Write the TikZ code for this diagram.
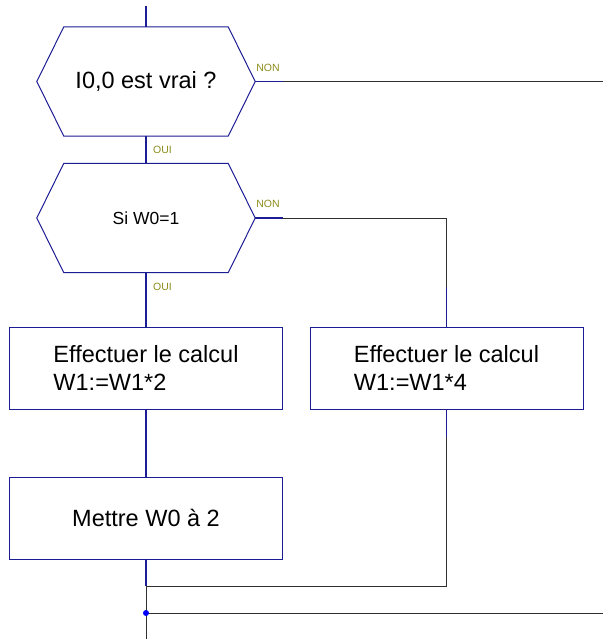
\documentclass[tikz,border=0pt]{standalone}
\usepackage{fontspec}
\setmainfont{Liberation Sans}
\usetikzlibrary{positioning,calc}
\definecolor{navyline}{HTML}{1C1C94}
\definecolor{olivelbl}{HTML}{8C8C1C}
\definecolor{linkgray}{HTML}{303030}
\definecolor{dotblue}{HTML}{0000FF}
\tikzset{
  hexa/.style={minimum width=218pt, minimum height=109pt, inner sep=0pt, font=\fontsize{23.5}{28}\selectfont},
  boxa/.style={draw=navyline, line width=1pt, minimum width=273pt, minimum height=82pt, inner sep=0pt, align=left, font=\fontsize{23.5}{28}\selectfont},
  hexline/.style={draw=navyline, line width=1pt, line join=miter},
  stub/.style={draw=navyline, line width=1.3pt},
  link/.style={draw=linkgray, line width=1pt},
  lbl/.style={font=\fontsize{10.5}{12}\selectfont, text=olivelbl, inner sep=0pt, anchor=west},
}

\begin{document}
\begin{tikzpicture}[x=1pt, y=-1pt]
  \useasboundingbox (0,0) rectangle (603,639);

  % tests
  \node[hexa] (h1) at (146,81.5) {I0,0 est vrai ?};
  \node[hexa, font=\fontsize{17.5}{20}\selectfont] (h2) at (146,218) {Si W0=1};
  \foreach \h in {h1,h2}{
    \draw[hexline] (\h.west) -- ([xshift=27pt]\h.north west) -- ([xshift=-27pt]\h.north east)
      -- (\h.east) -- ([xshift=-27pt]\h.south east) -- ([xshift=27pt]\h.south west) -- cycle;
  }

  % actions
  \node[boxa] (b1) at (146,368) {Effectuer le calcul\\W1:=W1*2};
  \node[boxa] (b2) at (446.5,368) {Effectuer le calcul\\W1:=W1*4};
  \node[boxa] (b3) at (146,518) {Mettre W0 à 2};

  \coordinate (top) at (146,6);
  \coordinate (out1) at (603,81.5);
  \coordinate (j1) at (146,586);
  \coordinate (j2) at (146,613);
  \coordinate (out2) at (603,613);
  \coordinate (bot) at (146,639);

  % links
  \draw[link] (h1.east) -- (out1);
  \draw[link] (h2.east) -| (b2.north);
  \draw[link] (b2.south) |- (j1);
  \draw[link] (b3.south) -- (bot);
  \draw[link] (j2) -- (out2);

  \draw[stub] (top) -- (h1.north);
  \draw[stub] (h1.south) -- (h2.north);
  \draw[stub] (h2.south) -- (b1.north);
  \draw[stub] (b1.south) -- (b3.north);
  \draw[stub] (b3.south) -- (j1);
  \draw[stub] (h1.east) -- ++(28,0);
  \draw[stub] (h2.east) -- ++(28,0);
  \draw[stub] (b2.north) -- ++(0,-40);
  \draw[stub] (b2.south) -- ++(0,27);
  \fill[dotblue] (j2) circle (3pt);

  \node[lbl] (non1) at ([xshift=1pt, yshift=14pt]h1.east) {NON};
  \node[lbl] (oui1) at ([xshift=7pt, yshift=-13.5pt]h1.south) {OUI};
  \node[lbl] (non2) at ([xshift=1pt, yshift=14pt]h2.east) {NON};
  \node[lbl] (oui2) at ([xshift=7pt, yshift=-14pt]h2.south) {OUI};
\end{tikzpicture}
\end{document}
